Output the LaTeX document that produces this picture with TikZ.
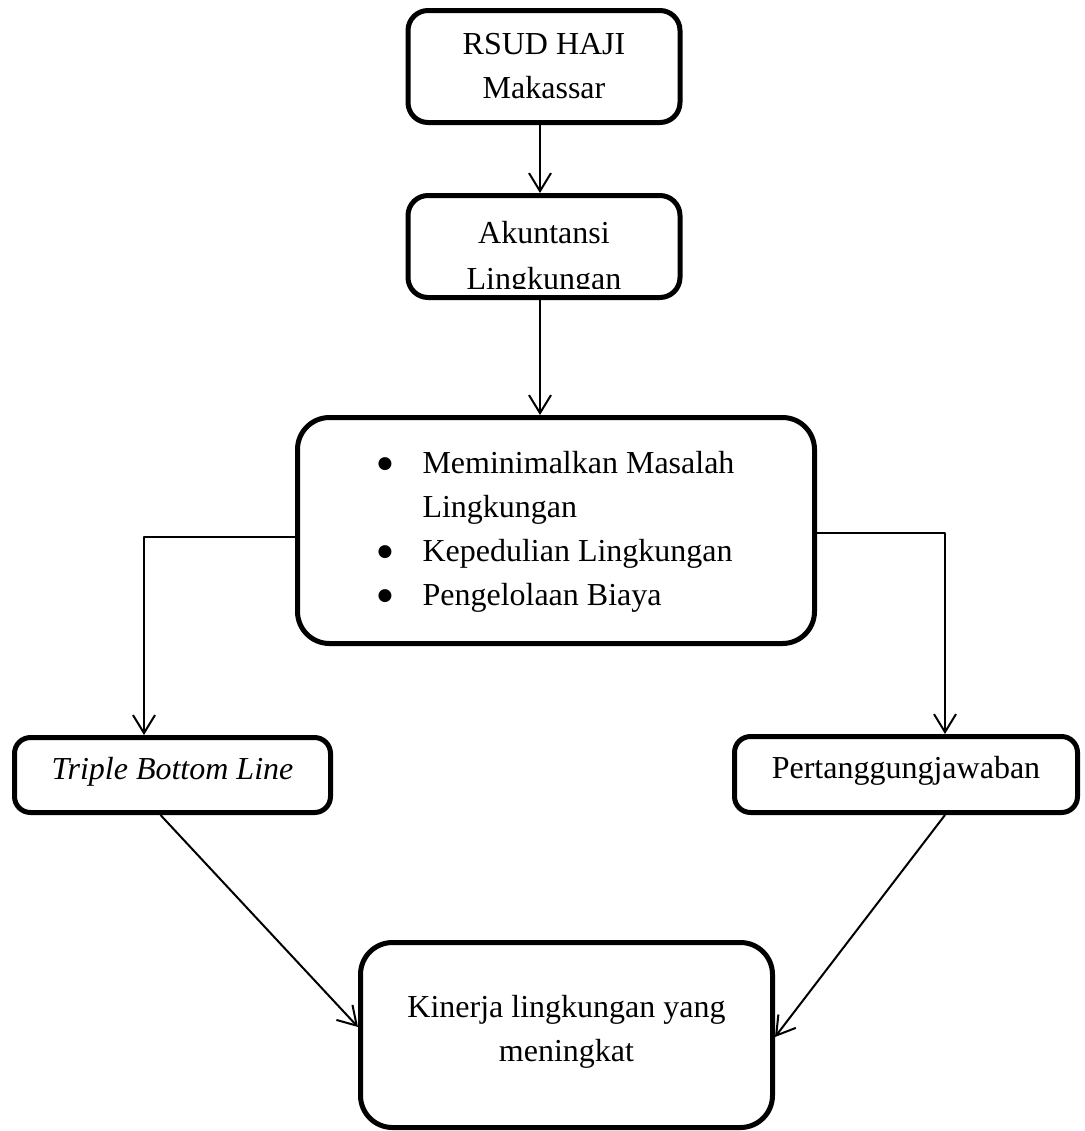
\documentclass[tikz,border=0pt]{standalone}
\usepackage{fontspec}
\setmainfont{Liberation Serif}
\newfontfamily\simbol{DejaVu Sans}
\usetikzlibrary{arrows.meta}
\tikzset{
  kotak/.style={draw, line width=2.5pt, inner sep=0pt, align=center},
  panah/.style={-{Straight Barb[length=9pt,width=11pt,line width=1pt]}, line width=1pt},
}
\newcommand{\butir}{\raisebox{2.5pt}{\simbol\fontsize{8.5}{0}\selectfont ●}}
\begin{document}
\begin{tikzpicture}[x=0.5pt, y=-0.5pt, font=\fontsize{16}{22}\selectfont, line join=round]
  \useasboundingbox[fill=white] (0,0) rectangle (1084,1131);
  % kotak atas
  \node[kotak, rounded corners=10pt, minimum width=136pt, minimum height=56pt] (rsud) at (544,66.5) {RSUD HAJI\\Makassar};
  \node[kotak, rounded corners=10pt, minimum width=136pt, minimum height=51pt] (akun) at (544,246.5) {};
  \begin{scope}
    \clip ([yshift=5.75pt]akun.south west) rectangle (akun.north east);
    \node[anchor=base] (akunA) at (544,243) {Akuntansi};
    \node[anchor=base] (akunB) at (544,289) {Lingkungan};
  \end{scope}
  % kotak tengah
  \node[kotak, rounded corners=16pt, minimum width=258.5pt, minimum height=113pt] (mid) at (556,530.5)
    {\begin{tabular}{@{}p{22.5pt}@{}l@{}}
      \butir & Meminimalkan Masalah\\
             & Lingkungan\\
      \butir & Kepedulian Lingkungan\\
      \butir & Pengelolaan Biaya
    \end{tabular}};
  \node[kotak, rounded corners=8pt, minimum width=158pt, minimum height=37.5pt, text depth=7pt] (tbl) at (172.5,775) {\itshape Triple Bottom Line};
  \node[kotak, rounded corners=8pt, minimum width=171.5pt, minimum height=38pt, text depth=7pt] (tang) at (906,774.5) {Pertanggungjawaban};
  % kotak bawah
  \node[kotak, rounded corners=16pt, minimum width=206pt, minimum height=92.5pt] (kin) at (566.5,1035) {};
  \node[anchor=north, inner sep=0pt, align=center] (kinteks) at (566.5,995) {Kinerja lingkungan yang\\meningkat};
  % panah
  \draw[panah] ([xshift=-2pt]rsud.south) -- ([xshift=-2pt]akun.north);
  \draw[panah] ([xshift=-2pt]akun.south) -- ([xshift=-2pt]akun.south |- mid.north);
  \draw[panah] ([yshift=-3.25pt]mid.west) -| ([xshift=-14.25pt]tbl.north);
  \draw[panah] ([yshift=-1.25pt]mid.east) -| ([xshift=19.5pt]tang.north);
  \draw[panah] ([xshift=-6pt]tbl.south) -- ([yshift=4pt]kin.west);
  \draw[panah] ([xshift=19.5pt]tang.south) -- ([yshift=-1pt]kin.east);
\end{tikzpicture}
\end{document}
